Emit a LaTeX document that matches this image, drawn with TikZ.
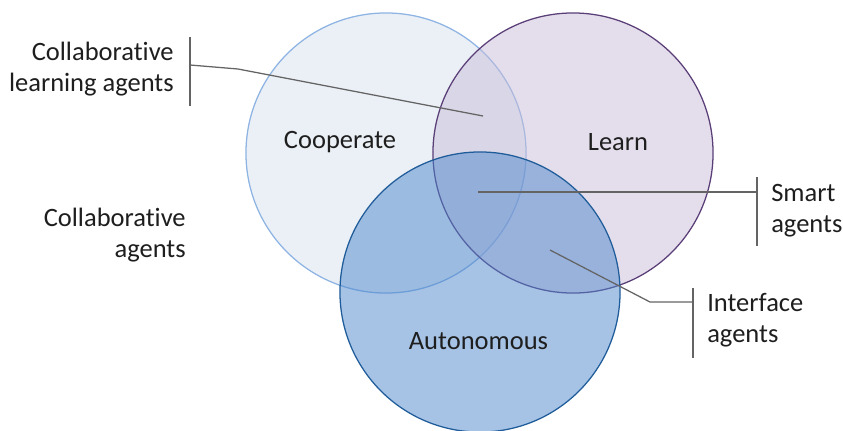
\documentclass[tikz,border=0pt]{standalone}
\usepackage{fontspec}
\setmainfont{Carlito}[Ligatures=NoCommon]
\usetikzlibrary{positioning}
\definecolor{coopfill}{RGB}{215,225,237}
\definecolor{coopline}{RGB}{142,180,227}
\definecolor{learnfill}{RGB}{201,189,217}
\definecolor{learnline}{RGB}{90,62,120}
\definecolor{autofill}{RGB}{77,135,205}
\definecolor{autoline}{RGB}{31,92,153}
\definecolor{calloutcolor}{RGB}{100,100,100}
\definecolor{textcolor}{RGB}{30,30,30}

\begin{document}
\begin{tikzpicture}[x=0.025cm, y=-0.025cm,
    set/.style={circle, draw, line width=0.9pt, fill opacity=0.5, minimum size=7cm, inner sep=0pt},
    callout/.style={draw=calloutcolor, line width=0.9pt},
    label/.style={text=textcolor, font=\fontsize{18.85}{22}\selectfont, inner sep=0pt}
]
    \useasboundingbox (0,0) rectangle (843,430);

    \node[set, draw=coopline, fill=coopfill] (coop) at (386,153) {};
    \node[set, draw=learnline, fill=learnfill] (learn) at (573,153) {};
    \node[set, draw=autoline, fill=autofill] (auto) at (480,292) {};

    \node[label, anchor=base] (cooptext) at (340,148) {Cooperate};
    \node[label, anchor=base] (learntext) at (618,150) {Learn};
    \node[label, anchor=base] (autotext) at (478.5,349) {Autonomous};

    \node[label, anchor=base east, align=right] (cla) at (174,91) {Collaborative\\learning agents};
    \node[label, anchor=base east, align=right] (ca) at (186,257) {Collaborative\\agents};
    \node[label, anchor=base west, align=left] (sa) at (771,232) {Smart\\agents};
    \node[label, anchor=base west, align=left] (ia) at (707,342) {Interface\\agents};

    \coordinate (clatop) at (190,37);
    \coordinate (clabot) at (190,106);
    \coordinate (clamid) at (190,65);
    \coordinate (clabend) at (238,69);
    \coordinate (claend) at (483,116);
    \draw[callout] (clatop) -- (clabot);
    \draw[callout] (clamid) -- (clabend) -- (claend);

    \coordinate (satop) at (757,177);
    \coordinate (sabot) at (757,246);
    \coordinate (samid) at (757,192);
    \coordinate (saend) at (478,192);
    \draw[callout] (satop) -- (sabot);
    \draw[callout] (samid) -- (saend);

    \coordinate (iatop) at (693,288);
    \coordinate (iabot) at (693,358);
    \coordinate (iamid) at (693,302);
    \coordinate (iabend) at (650,302);
    \coordinate (iaend) at (550,250);
    \draw[callout] (iatop) -- (iabot);
    \draw[callout] (iamid) -- (iabend) -- (iaend);
\end{tikzpicture}
\end{document}
